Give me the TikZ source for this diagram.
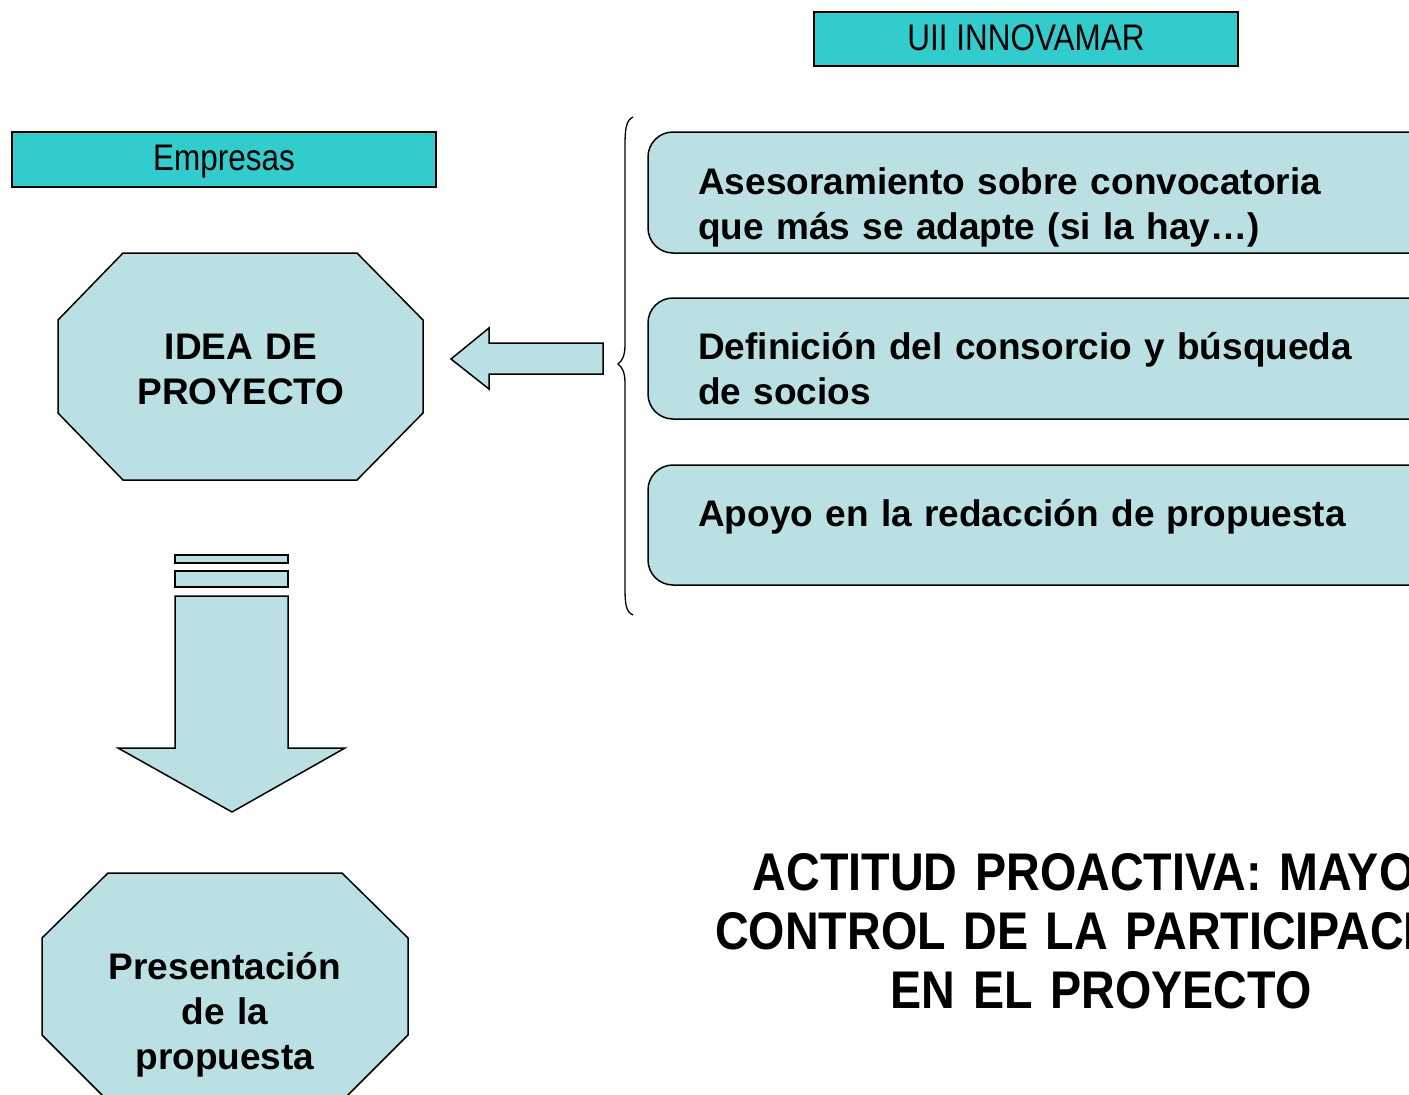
\documentclass[tikz,border=0pt]{standalone}
\usepackage{fontspec}
\setmainfont{Liberation Sans}
\newfontfamily\narrowfont[FakeStretch=0.85]{Liberation Sans}
\newfontfamily\slimfont[FakeStretch=0.88]{Liberation Sans}
\definecolor{headcyan}{RGB}{51,204,204}
\definecolor{paleblue}{RGB}{187,224,227}
\tikzset{
  header/.style={fill=headcyan, draw=black, line width=1.5pt},
  pale/.style={fill=paleblue, draw=black, line width=1.5pt},
  headtext/.style={anchor=base, inner sep=0pt, font=\narrowfont\fontsize{37}{40}\selectfont},
  boxtext/.style={anchor=base west, inner sep=0pt, text width=720pt, align=left,
    font=\bfseries\fontsize{37}{45}\selectfont},
  octtext/.style={anchor=base, inner sep=0pt, text width=340pt, align=center,
    font=\bfseries\fontsize{37}{45}\selectfont}
}
\begin{document}
\begin{tikzpicture}[x=1pt, y=-1pt]
  \useasboundingbox (0,0) rectangle (1409,1095);
  \clip (0,0) rectangle (1409,1095);

  % headers
  \filldraw[header] (814,12) rectangle (1238,66);
  \node[headtext] (uii) at (1026,50) {UII INNOVAMAR};
  \filldraw[header] (12,132) rectangle (436,187);
  \node[headtext] (empresas) at (224,170) {Empresas};

  % octagons
  \filldraw[pale] (123,253) -- (357,253) -- (423,320) -- (423,413)
    -- (357,480) -- (123,480) -- (58,413) -- (58,320) -- cycle;
  \node[octtext] (idea) at (241,359) {IDEA DE\\PROYECTO};
  \filldraw[pale] (108,873) -- (342,873) -- (408,938) -- (408,1035)
    -- (342,1101) -- (108,1101) -- (42,1035) -- (42,938) -- cycle;
  \node[octtext] (propuesta) at (225,979) {Presentación\\de la\\propuesta};

  % down arrow
  \filldraw[pale] (175,555) rectangle (288,563);
  \filldraw[pale] (175,571) rectangle (288,587);
  \filldraw[pale] (175,596) -- (288,596) -- (288,748) -- (345,748)
    -- (232,812) -- (118,748) -- (175,748) -- cycle;

  % left arrow
  \filldraw[pale] (603,343) -- (489,343) -- (489,328) -- (451,359)
    -- (489,389) -- (489,374) -- (603,374) -- cycle;

  % brace
  \draw[line width=1.3pt] (633,117) .. controls (626,120) and (625,130) .. (625,145)
    -- (625,345) .. controls (625,356) and (622,361) .. (618,364)
    .. controls (622,367) and (625,372) .. (625,383)
    -- (625,588) .. controls (625,604) and (626,612) .. (633,615);

  % services
  \filldraw[pale, rounded corners=25pt] (648,132) rectangle (1450,253);
  \node[boxtext] (asesor) at (698,194) {Asesoramiento sobre convocatoria\\que más se adapte (si la hay…)};
  \filldraw[pale, rounded corners=25pt] (648,298) rectangle (1450,419);
  \node[boxtext] (consorcio) at (698,359) {Definición del consorcio y búsqueda\\de socios};
  \filldraw[pale, rounded corners=25pt] (648,465) rectangle (1450,585);
  \node[boxtext] (redaccion) at (698,526) {Apoyo en la redacción de propuesta};

  % conclusion
  \node[anchor=base, inner sep=0pt, text width=1100pt, align=center,
    font=\slimfont\bfseries\fontsize{53}{59}\selectfont] (actitud) at (1101,890)
    {ACTITUD PROACTIVA: MAYOR\\CONTROL DE LA PARTICIPACIÓN\\EN EL PROYECTO};
\end{tikzpicture}
\end{document}
